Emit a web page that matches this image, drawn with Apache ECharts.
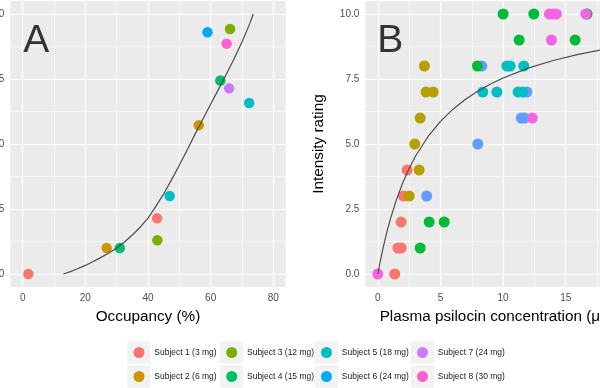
<!DOCTYPE html>
<html>
<head>
<meta charset="utf-8">
<script src="https://cdn.jsdelivr.net/npm/echarts@6/dist/echarts.min.js"></script>
<style>
  html, body { margin: 0; padding: 0; background: #ffffff; }
  #chart { width: 600px; height: 388px; }
</style>
</head>
<body>
<div id="chart"></div>
<script>
// ---------- data ----------
const subjects = ['Subject 1 (3 mg)', 'Subject 2 (6 mg)', 'Subject 3 (12 mg)', 'Subject 4 (15 mg)',
                  'Subject 5 (18 mg)', 'Subject 6 (24 mg)', 'Subject 7 (24 mg)', 'Subject 8 (30 mg)'];
const coloursA = ['#F8766D', '#CD9600', '#7CAE00', '#00BE67', '#00BFC4', '#00A9FF', '#C77CFF', '#FF61CC'];

// Panel A: occupancy (%) vs intensity rating
const occupancy  = [1.8, 42.9, 26.8, 56.2, 43.0, 66.2, 31.0, 63.1, 46.9, 72.3, 59.0, 65.9, 65.1];
const intensityA = [0.0, 2.14, 1.0, 5.72, 1.3, 9.42, 1.0, 7.44, 3.0, 6.58, 9.3, 7.14, 8.86];
const subjectA   = [0, 0, 1, 1, 2, 2, 3, 3, 4, 4, 5, 6, 7];
const curveAx = [13, 15, 17.5, 20, 22.5, 25, 27.5, 30, 32.5, 35, 37.5, 40, 42.5, 45, 47.5,
                 50, 52.5, 55, 57.5, 60, 62.5, 65, 67.5, 70, 72.5, 73.6];
const curveAy = [0, 0.08, 0.2, 0.33, 0.48, 0.64, 0.81, 1.0, 1.23, 1.5, 1.8, 2.15, 2.6, 3.08, 3.62,
                 4.18, 4.77, 5.37, 5.95, 6.53, 7.1, 7.68, 8.28, 8.92, 9.63, 10.0];

// Panel B: plasma psilocin concentration vs intensity rating
const subjectsB = [5, 0, 1, 3, 4, 7];   // drawing order of subjects in panel B
const coloursB  = { 0: '#F8766D', 1: '#B79F00', 3: '#00BA38', 4: '#00BFC4', 5: '#619CFF', 7: '#F564E3' };
const concentration = [0.0, 1.35, 1.6, 1.86, 3.38, 1.86, 4.1, 5.3, 2.05, 2.5, 3.9, 2.34, 3.3, 2.95, 7.98,
                       3.38, 11.45, 11.7, 12.33, 3.85, 4.42, 8.38, 9.5, 11.2, 11.55, 11.9,
                       3.72, 7.95, 8.3, 10.3, 10.56, 11.65, 11.28, 13.86, 15.75,
                       10.0, 12.45, 13.7, 14.0, 14.25, 16.7, 16.6];
const intensityB = [0, 0, 1, 1, 1, 2, 2, 2, 3, 3, 3, 4, 4, 5, 5,
                    6, 6, 6, 6, 7, 7, 7, 7, 7, 7, 7,
                    8, 8, 8, 8, 8, 8, 9, 9, 9,
                    10, 10, 10, 10, 10, 10, 10];
const subjectB   = [7, 0, 0, 0, 3, 0, 3, 3, 0, 1, 5, 0, 1, 1, 5,
                    1, 5, 5, 7, 1, 1, 4, 4, 4, 4, 5,
                    1, 3, 5, 4, 4, 4, 3, 7, 3,
                    3, 3, 7, 7, 7, 3, 7];
const curveBx = [0, 0.1, 0.25, 0.5, 0.75, 1, 1.5, 2, 2.5, 3, 4, 5, 6, 7, 8, 9, 10, 12, 14, 16, 18, 20];
const curveBy = [0, 0.26, 0.62, 1.17, 1.67, 2.11, 2.88, 3.52, 4.06, 4.53, 5.28, 5.87, 6.34, 6.72, 7.04,
                 7.31, 7.54, 7.92, 8.21, 8.45, 8.64, 8.8];

// axis ticks and grid lines
const xTicksA = [0, 20, 40, 60, 80];
const xMinorA = [10, 30, 50, 70];
const xTicksB = [0, 5, 10, 15, 20];
const xMinorB = [2.5, 7.5, 12.5, 17.5];
const yTicks  = [0, 2.5, 5, 7.5, 10];
const yMinor  = [1.25, 3.75, 6.25, 8.75];

// ---------- chart ----------
const FONT = '"Liberation Sans", Arial, Helvetica, sans-serif';
const chart = echarts.init(document.getElementById('chart'), null, { renderer: 'canvas' });

const X_EXT = [[-4, 84], [-1, 21]];
const Y_EXT = [-0.5, 10.5];

function zip(xs, ys) { return xs.map((x, i) => [x, ys[i]]); }

function gridLineSeries(idx, xs, ys, width) {
  const d = [];
  xs.forEach(v => d.push({ coords: [[v, Y_EXT[0]], [v, Y_EXT[1]]] }));
  ys.forEach(v => d.push({ coords: [[X_EXT[idx][0], v], [X_EXT[idx][1], v]] }));
  return {
    type: 'lines', coordinateSystem: 'cartesian2d', xAxisIndex: idx, yAxisIndex: idx,
    data: d, z: 1, silent: true, symbol: ['none', 'none'],
    lineStyle: { color: '#FFFFFF', width: width, opacity: 1, type: 'solid' },
    emphasis: { disabled: true }
  };
}

const series = [
  gridLineSeries(0, xMinorA, yMinor, 0.6), gridLineSeries(0, xTicksA, yTicks, 1.2),
  gridLineSeries(1, xMinorB, yMinor, 0.6), gridLineSeries(1, xTicksB, yTicks, 1.2)
];

subjects.forEach((name, s) => {
  const pts = [];
  occupancy.forEach((x, i) => { if (subjectA[i] === s) pts.push([x, intensityA[i]]); });
  series.push({
    name: name, type: 'scatter', xAxisIndex: 0, yAxisIndex: 0, data: pts,
    symbol: 'circle', symbolSize: 10.5, itemStyle: { color: coloursA[s], opacity: 1 }, z: 3
  });
});

subjectsB.forEach(s => {
  const pts = [];
  concentration.forEach((x, i) => { if (subjectB[i] === s) pts.push([x, intensityB[i]]); });
  series.push({
    name: 'B ' + subjects[s], type: 'scatter', xAxisIndex: 1, yAxisIndex: 1, data: pts,
    symbol: 'circle', symbolSize: 11, itemStyle: { color: coloursB[s], opacity: 1 }, z: 3
  });
});

series.push({
  type: 'line', xAxisIndex: 0, yAxisIndex: 0, data: zip(curveAx, curveAy),
  showSymbol: false, smooth: false, z: 4, silent: true,
  lineStyle: { color: '#4D4D4D', width: 1.2, join: 'round' }
});
series.push({
  type: 'line', xAxisIndex: 1, yAxisIndex: 1, data: zip(curveBx, curveBy),
  showSymbol: false, smooth: false, z: 4, silent: true,
  lineStyle: { color: '#4D4D4D', width: 1.2, join: 'round' }
});

function xAxis(idx, ticks, name) {
  return {
    type: 'value', gridIndex: idx, min: X_EXT[idx][0], max: X_EXT[idx][1],
    axisLine: { show: false },
    axisTick: { show: true, customValues: ticks, length: 4, lineStyle: { color: '#333333', width: 1 } },
    axisLabel: { show: true, customValues: ticks, margin: 6, color: '#4D4D4D', fontSize: 10, fontFamily: FONT },
    splitLine: { show: false },
    name: name, nameLocation: 'middle', nameGap: 22,
    nameTextStyle: { fontSize: 15.3, color: '#000000', fontFamily: FONT }
  };
}
function yAxis(idx, name) {
  return {
    type: 'value', gridIndex: idx, min: Y_EXT[0], max: Y_EXT[1],
    axisLine: { show: false },
    axisTick: { show: true, customValues: yTicks, length: 4, lineStyle: { color: '#333333', width: 1 } },
    axisLabel: { show: true, customValues: yTicks, margin: 6, color: '#4D4D4D', fontSize: 10, fontFamily: FONT,
                 formatter: v => Number(v).toFixed(1) },
    splitLine: { show: false },
    name: name, nameLocation: 'middle', nameGap: 39,
    nameTextStyle: { fontSize: 15.3, color: '#000000', fontFamily: FONT }
  };
}

const keyCenters = [139, 231.7, 326.5, 422.5];
const keyRows = [352.5, 376.5];
const legends = [0, 1, 2, 3].map(c => ({
  data: [subjects[2 * c], subjects[2 * c + 1]],
  orient: 'vertical', left: keyCenters[c] - 5.5, top: keyRows[0] - 5.5, padding: 0,
  itemWidth: 11, itemHeight: 11, itemGap: 13, icon: 'circle', selectedMode: false,
  textStyle: { fontSize: 8.5, color: '#1A1A1A', fontFamily: FONT, padding: [0, 0, 0, 4.8] }
}));

const graphics = [];
keyCenters.forEach(cx => keyRows.forEach(cy => graphics.push({
  type: 'rect', shape: { x: cx - 11.5, y: cy - 11, width: 23, height: 22 },
  style: { fill: '#F2F2F2' }, z: 0, silent: true
})));
graphics.push({ type: 'text', x: 36.3, y: 41, z: 10, silent: true,
  style: { text: 'A', font: '39px ' + FONT, fill: '#333333', align: 'center', verticalAlign: 'middle' } });
graphics.push({ type: 'text', x: 390.3, y: 41.6, z: 10, silent: true,
  style: { text: 'B', font: '39px ' + FONT, fill: '#333333', align: 'center', verticalAlign: 'middle' } });

chart.setOption({
  animation: false,
  backgroundColor: '#FFFFFF',
  textStyle: { fontFamily: FONT },
  grid: [
    { left: 10.2, top: 1, width: 275.6, height: 286, show: true, backgroundColor: '#EBEBEB', borderWidth: 0,
      containLabel: false, outerBoundsMode: 'none' },
    { left: 365.3, top: 1, width: 275.6, height: 286, show: true, backgroundColor: '#EBEBEB', borderWidth: 0,
      containLabel: false, outerBoundsMode: 'none' }
  ],
  xAxis: [xAxis(0, xTicksA, 'Occupancy (%)'),
          xAxis(1, xTicksB, 'Plasma psilocin concentration (μg/L)')],
  yAxis: [yAxis(0, ''), yAxis(1, 'Intensity rating')],
  legend: legends,
  graphic: graphics,
  series: series
});
</script>
</body>
</html>
